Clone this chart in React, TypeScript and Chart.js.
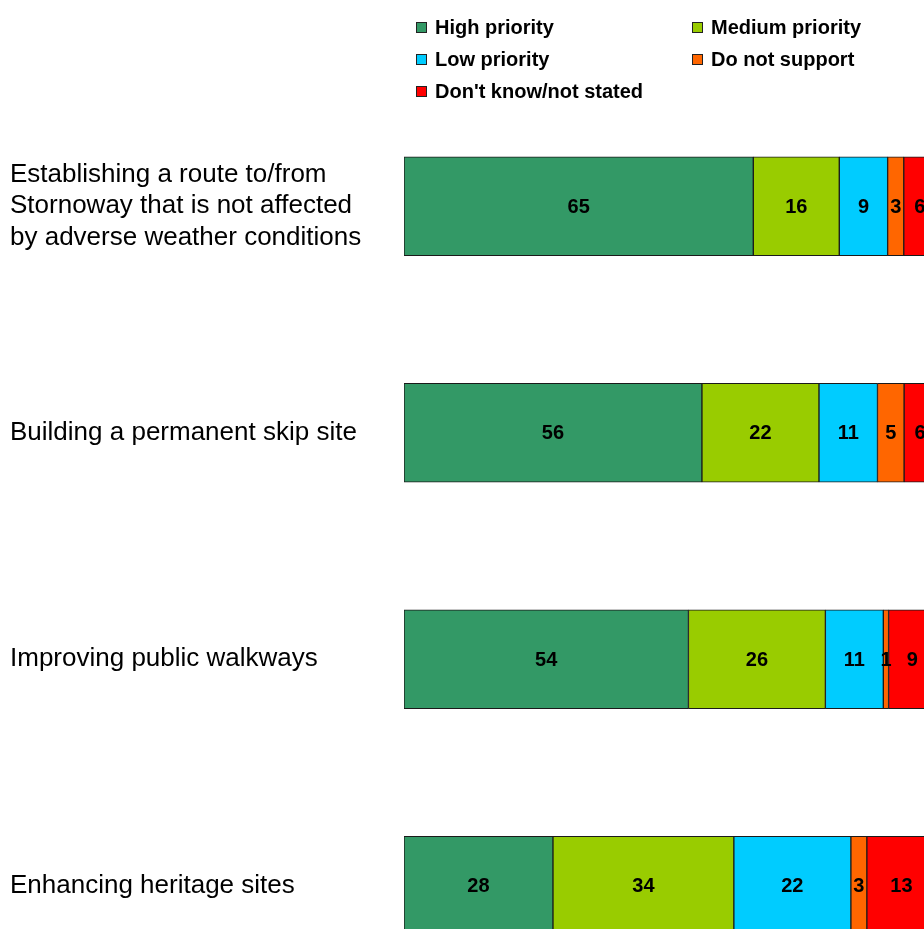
import React, { useEffect, useRef } from "react";
import { Chart, registerables } from "chart.js";

Chart.register(...registerables);

const categories: (string | string[])[] = [
  ["Establishing a route to/from", "Stornoway that is not affected", "by adverse weather conditions"],
  "Building a permanent skip site",
  "Improving public walkways",
  "Enhancing heritage sites",
];

const seriesNames = ["High priority", "Medium priority", "Low priority", "Do not support", "Don't know/not stated"];
const seriesColors = ["#339966", "#99CC00", "#00CCFF", "#FF6600", "#FF0000"];

const highPriority = [65, 56, 54, 28];
const mediumPriority = [16, 22, 26, 34];
const lowPriority = [9, 11, 11, 22];
const doNotSupport = [3, 5, 1, 3];
const dontKnow = [6, 6, 9, 13];

const seriesValues = [highPriority, mediumPriority, lowPriority, doNotSupport, dontKnow];

const FONT = "'Liberation Sans', Arial, Helvetica, sans-serif";

const rowTotals = categories.map((_, i) => seriesValues.reduce((s, arr) => s + arr[i], 0));

const valueLabelPlugin = {
  id: "valueLabels",
  afterDatasetsDraw(chart: any) {
    const ctx = chart.ctx;
    ctx.save();
    ctx.font = `bold 20px ${FONT}`;
    ctx.fillStyle = "#000";
    ctx.textAlign = "center";
    ctx.textBaseline = "middle";
    chart.data.datasets.forEach((ds: any, di: number) => {
      const meta = chart.getDatasetMeta(di);
      meta.data.forEach((el: any, i: number) => {
        const p = el.getProps(["x", "y", "base"], true);
        const cx = (p.x + p.base) / 2;
        ctx.fillText(String(ds.raw[i]), cx, p.y + 1);
      });
    });
    ctx.restore();
  },
};

const legendPlugin = {
  id: "customLegend",
  afterDraw(chart: any) {
    const ctx = chart.ctx;
    const colX = [416, 692];
    const rowY = [27.5, 59.5, 91.5];
    ctx.save();
    ctx.font = `bold 20px ${FONT}`;
    ctx.textAlign = "left";
    ctx.textBaseline = "middle";
    chart.data.datasets.forEach((ds: any, i: number) => {
      const x = colX[i % 2];
      const y = rowY[Math.floor(i / 2)];
      ctx.fillStyle = ds.backgroundColor;
      ctx.fillRect(x, y - 5.5, 11, 11);
      ctx.strokeStyle = "#222";
      ctx.lineWidth = 1;
      ctx.strokeRect(x + 0.5, y - 5, 10, 10);
      ctx.fillStyle = "#000";
      ctx.fillText(ds.label, x + 19, y + 1);
    });
    ctx.restore();
  },
};

export default function App() {
  const ref = useRef<HTMLCanvasElement | null>(null);

  useEffect(() => {
    if (!ref.current) return;
    const chart = new Chart(ref.current, {
      type: "bar",
      data: {
        labels: categories,
        datasets: seriesValues.map((vals, si) => ({
          label: seriesNames[si],
          data: vals.map((v, i) => (v / rowTotals[i]) * 100),
          raw: vals,
          backgroundColor: seriesColors[si],
          borderColor: "#1a1a1a",
          borderWidth: 1,
          borderSkipped: false,
          barThickness: 99,
        })) as any,
      },
      options: {
        indexAxis: "y",
        responsive: false,
        animation: false,
        layout: { padding: { left: 10, right: 24, top: 93, bottom: 1 } },
        plugins: { legend: { display: false }, tooltip: { enabled: false } },
        scales: {
          x: { stacked: true, min: 0, max: 100, display: false },
          y: {
            stacked: true,
            grid: { display: false },
            border: { display: false },
            ticks: {
              crossAlign: "far",
              color: "#000",
              font: { family: FONT, size: 26, lineHeight: 1.22 },
            },
            afterFit(scale: any) {
              scale.width = 394;
              scale.paddingTop = 0;
              scale.paddingBottom = 0;
            },
          },
        },
      },
      plugins: [valueLabelPlugin, legendPlugin],
    });
    return () => chart.destroy();
  }, []);

  return (
    <div
      style={{
        position: "fixed",
        left: 0,
        top: 0,
        width: 924,
        height: 929,
        overflow: "hidden",
        background: "#fff",
      }}
    >
      <canvas
        ref={ref}
        width={960}
        height={1000}
        style={{ position: "absolute", left: 0, top: 0, width: 960, height: 1000 }}
      />
    </div>
  );
}
